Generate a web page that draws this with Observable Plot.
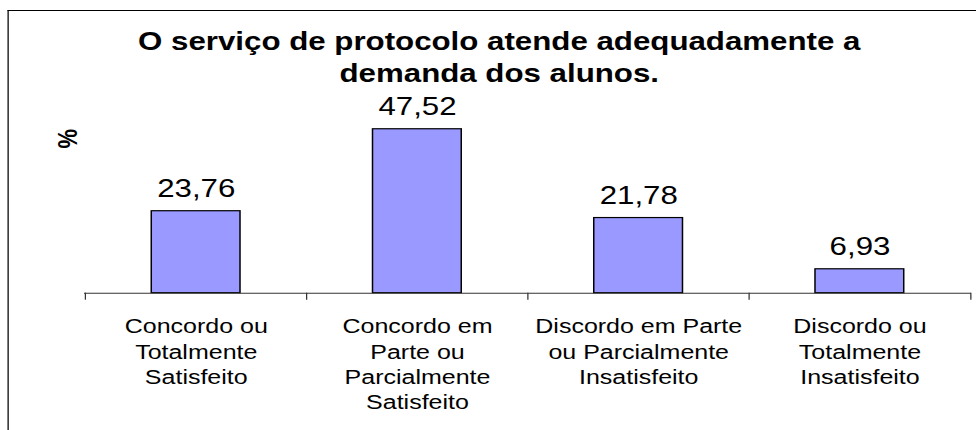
<!DOCTYPE html>
<html>
<head>
<meta charset="utf-8">
<script src="https://cdn.jsdelivr.net/npm/d3@7"></script>
<script src="https://cdn.jsdelivr.net/npm/@observablehq/plot@0.6"></script>
<style>
  html, body { margin: 0; padding: 0; background: #fff; overflow: hidden; width: 976px; height: 430px; }
  #wrap { position: absolute; left: 0; top: 0; width: 780.8px; height: 430px; transform: scaleX(1.25); transform-origin: 0 0; font-family: "Liberation Sans", Arial, sans-serif; }
  #frame { position: absolute; left: 5.6px; top: 10px; width: 900px; height: 600px; border-left: 1px solid #000; border-top: 1px solid #000; }
  #title { position: absolute; left: 9px; top: 25.3px; width: 780.8px; text-align: center; font-weight: bold; font-size: 25px; line-height: 32px; color: #000; z-index: 2; }
  #chart { position: absolute; left: 0; top: 0; z-index: 1; }
</style>
</head>
<body>
<div id="wrap">
  <div id="frame"></div>
  <div id="chart"></div>
  <div id="title">O serviço de protocolo atende adequadamente a<br>demanda dos alunos.</div>
</div>
<script>
const categories = [
  "Concordo ou\nTotalmente\nSatisfeito",
  "Concordo em\nParte ou\nParcialmente\nSatisfeito",
  "Discordo em Parte\nou Parcialmente\nInsatisfeito",
  "Discordo ou\nTotalmente\nInsatisfeito"
];
const values = [23.76, 47.52, 21.78, 6.93];
const yLabel = "%";

const data = categories.map((c, i) => ({category: c, value: values[i]}));
const fmt = v => v.toFixed(2).replace(".", ",");

const W = 780.8, H = 430;
const mL = 67.2, mR = 4, mT = 120.2, mB = 137.3;
const step = (W - mL - mR) / categories.length;

const chart = Plot.plot({
  width: W,
  height: H,
  marginTop: mT,
  marginBottom: mB,
  marginLeft: mL,
  marginRight: mR,
  style: {fontFamily: '"Liberation Sans", Arial, sans-serif', background: "transparent", overflow: "visible"},
  x: {domain: categories, paddingInner: 0.6, paddingOuter: 0.3, axis: null},
  y: {domain: [0, 50], axis: null},
  marks: [
    Plot.barY(data, {x: "category", y: "value", fill: "#9999FF", stroke: "#000", strokeWidth: 1.2}),
    Plot.ruleY([0], {stroke: "#333", strokeWidth: 1}),
    Plot.ruleX(categories, {x: d => d, y1: 0, y2: 0, dx: -step / 2, insetBottom: -7, stroke: "#333", strokeWidth: 1}),
    Plot.ruleX(categories.slice(-1), {x: d => d, y1: 0, y2: 0, dx: step / 2, insetBottom: -7, stroke: "#333", strokeWidth: 1}),
    Plot.text(data, {x: "category", y: "value", text: d => fmt(d.value), dy: -14, lineAnchor: "bottom", fontSize: 25, fill: "#000"}),
    Plot.axisX({tickSize: 0, tickPadding: 22, fontSize: 20, lineHeight: 1.27, label: null, fill: "#000"}),
    Plot.text([yLabel], {frameAnchor: "top-left", text: d => d, dx: -12.8, dy: 18, rotate: -90, fontSize: 22, fontWeight: "bold", textAnchor: "middle", lineAnchor: "middle", fill: "#000"})
  ]
});
document.getElementById("chart").appendChild(chart);
</script>
</body>
</html>
